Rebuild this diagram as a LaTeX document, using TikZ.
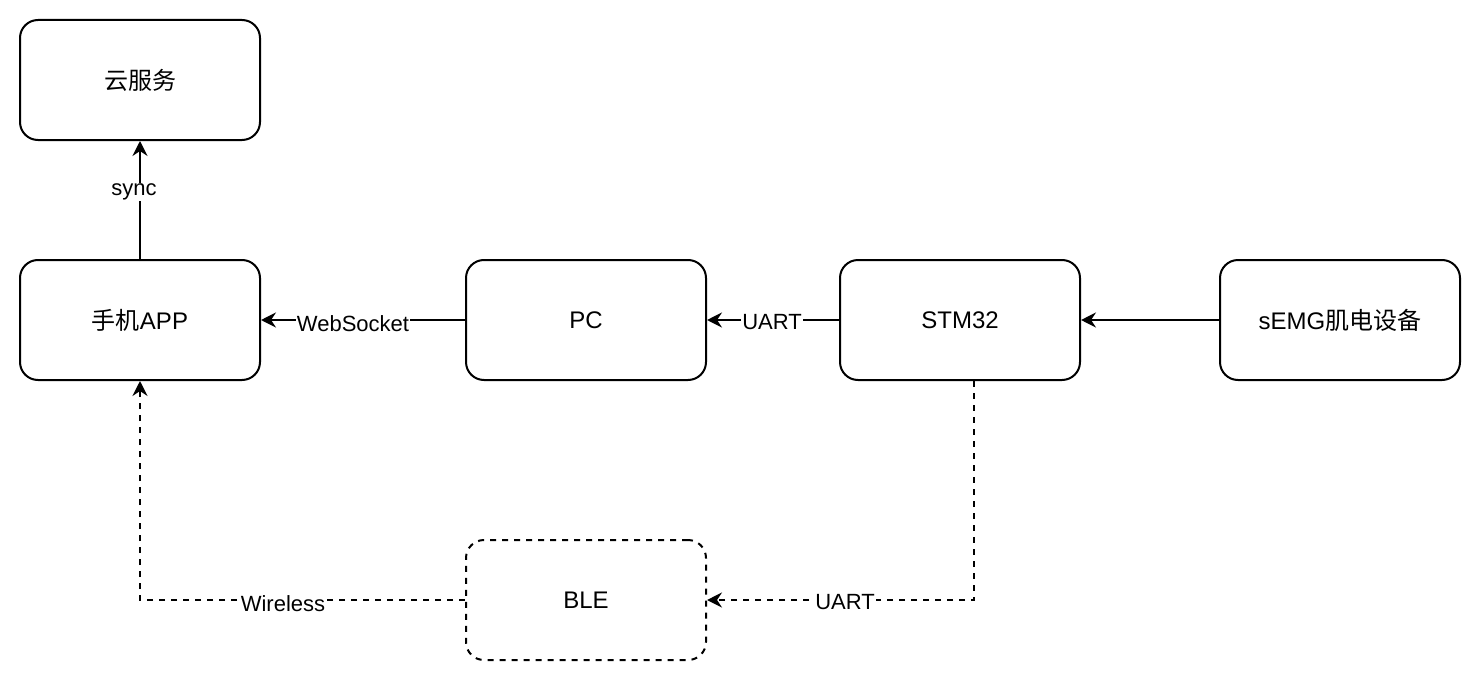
\documentclass[tikz,border=0pt]{standalone}
\usepackage{fontspec}
\setmainfont{Liberation Sans}
\newfontfamily\cjk{Noto Sans CJK SC}
\usetikzlibrary{arrows.meta}
\begin{document}
\begin{tikzpicture}[x=1pt,y=-1pt,
 box/.style={draw, line width=2pt, rounded corners=18pt, minimum width=240pt, minimum height=120pt, font=\fontsize{24}{28}\selectfont, inner sep=0pt},
 dbox/.style={box, dash pattern=on 6pt off 6pt},
 conn/.style={line width=2pt, -{Stealth[length=15pt,width=15pt,inset=5pt]}},
 dconn/.style={conn, dash pattern=on 6pt off 6pt},
 lbl/.style={fill=white, inner sep=1pt, font=\fontsize{22}{26}\selectfont}]
\useasboundingbox (0,0) rectangle (1482,682);
\node[box] (cloud) at (140,80) {{\cjk 云服务}};
\node[box] (app) at (140,320) {{\cjk 手机}APP};
\node[box] (pc) at (586,320) {PC};
\node[box] (stm) at (960,320) {STM32};
\node[box] (semg) at (1340,320) {sEMG{\cjk 肌电设备}};
\node[dbox] (ble) at (586,600) {BLE};
\draw[conn] (app.north) -- (cloud.south);
\node[lbl] (l1) at (134,192) {sync};
\draw[conn] (pc.west) -- (app.east);
\node[lbl] (l2) at (353,324) {WebSocket};
\draw[conn] (stm.west) -- (pc.east);
\node[lbl] (l3) at (772,322) {UART};
\draw[conn] (semg.west) -- (stm.east);
\draw[dconn] ([xshift=14pt]stm.south) |- (ble.east);
\node[lbl] (l4) at (845,602) {UART};
\draw[dconn] (ble.west) -| (app.south);
\node[lbl] (l5) at (283,604) {Wireless};
\end{tikzpicture}
\end{document}
